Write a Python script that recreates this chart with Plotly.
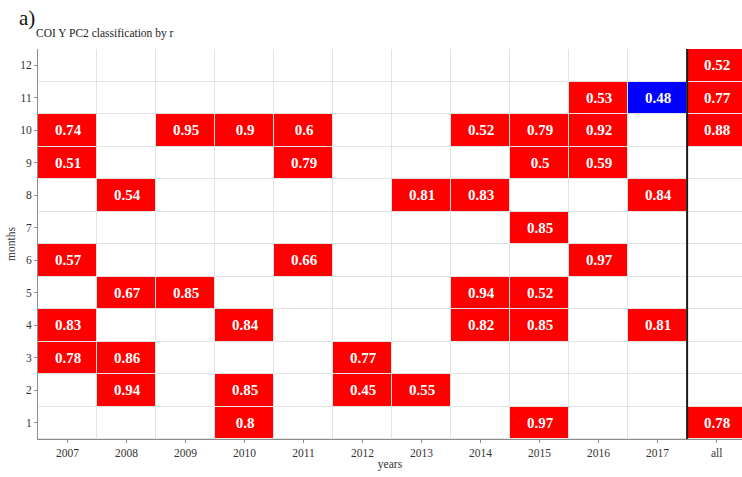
import plotly.graph_objects as go

years = ["2007", "2008", "2009", "2010", "2011", "2012", "2013",
         "2014", "2015", "2016", "2017", "all"]
months = list(range(1, 13))

cell_year = ["2007", "2007", "2007", "2007", "2007",
             "2008", "2008", "2008", "2008",
             "2009", "2009",
             "2010", "2010", "2010", "2010",
             "2011", "2011", "2011",
             "2012", "2012",
             "2013", "2013",
             "2014", "2014", "2014", "2014",
             "2015", "2015", "2015", "2015", "2015", "2015",
             "2016", "2016", "2016", "2016",
             "2017", "2017", "2017",
             "all", "all", "all", "all"]
cell_month = [10, 9, 6, 4, 3,
              8, 5, 3, 2,
              10, 5,
              10, 4, 2, 1,
              10, 9, 6,
              3, 2,
              8, 2,
              10, 8, 5, 4,
              10, 9, 7, 5, 4, 1,
              11, 10, 9, 6,
              11, 8, 4,
              12, 11, 10, 1]
cell_r = [0.74, 0.51, 0.57, 0.83, 0.78,
          0.54, 0.67, 0.86, 0.94,
          0.95, 0.85,
          0.9, 0.84, 0.85, 0.8,
          0.6, 0.79, 0.66,
          0.77, 0.45,
          0.81, 0.55,
          0.52, 0.83, 0.94, 0.82,
          0.79, 0.5, 0.85, 0.52, 0.85, 0.97,
          0.53, 0.92, 0.59, 0.97,
          0.48, 0.84, 0.81,
          0.52, 0.77, 0.88, 0.78]
# 1 = positive (red), 2 = negative (blue)
cell_class = [1] * 36 + [2] + [1] * 6

# build grid
z = [[0 for _ in years] for _ in months]
txt = [["" for _ in years] for _ in months]
for yr, mo, r, c in zip(cell_year, cell_month, cell_r, cell_class):
    i = months.index(mo)
    j = years.index(yr)
    z[i][j] = c
    txt[i][j] = f"{r:g}"

colorscale = [[0, "white"], [0.25, "white"], [0.25, "#ff0000"],
              [0.75, "#ff0000"], [0.75, "#0000ff"], [1, "#0000ff"]]

fig = go.Figure(go.Heatmap(
    x=years, y=months, z=z, text=txt, texttemplate="%{text}",
    textfont=dict(family="Liberation Serif", size=15, color="white", weight="bold"),
    colorscale=colorscale, zmin=0, zmax=2, showscale=False,
    xgap=1, ygap=1, hoverinfo="skip",
))

fig.add_shape(type="line", xref="x", yref="y domain", x0=10.5, x1=10.5,
              y0=0, y1=1, line=dict(color="#1a1a1a", width=2))

fig.update_layout(
    width=742, height=477,
    margin=dict(l=38, r=0, t=49, b=38, autoexpand=False),
    paper_bgcolor="white", plot_bgcolor="#e3e3e3",
    font=dict(family="Liberation Serif", size=11, color="#333333"),
    showlegend=False,
    annotations=[
        dict(text="a)", xref="paper", yref="paper", x=-0.03, y=1.08,
             xanchor="left", yanchor="middle", showarrow=False,
             font=dict(family="Liberation Serif", size=21, color="#111111")),
        dict(text="COI Y PC2 classification by r", xref="paper", yref="paper",
             x=-0.006, y=1.041, xanchor="left", yanchor="middle", showarrow=False,
             font=dict(family="Liberation Serif", size=11.5, color="#222222")),
    ],
)
fig.update_xaxes(
    type="category", range=[-0.5, 11.43], showgrid=False, zeroline=False,
    showline=True, linecolor="#8c8c8c", linewidth=1, automargin=False,
    ticks="outside", ticklen=3, tickcolor="#8c8c8c",
    title=dict(text="years", standoff=2, font=dict(size=11.5)),
    tickfont=dict(size=11.5),
)
fig.update_yaxes(
    range=[0.5, 12.5], tickvals=months, showgrid=False, zeroline=False,
    showline=True, linecolor="#8c8c8c", linewidth=1, automargin=False,
    ticks="outside", ticklen=3, tickcolor="#8c8c8c",
    title=dict(text="months", standoff=2, font=dict(size=11.5)),
    tickfont=dict(size=11.5),
)

fig.write_html("out.html", config={"displayModeBar": False},
               post_script="document.body.style.margin='0';")
